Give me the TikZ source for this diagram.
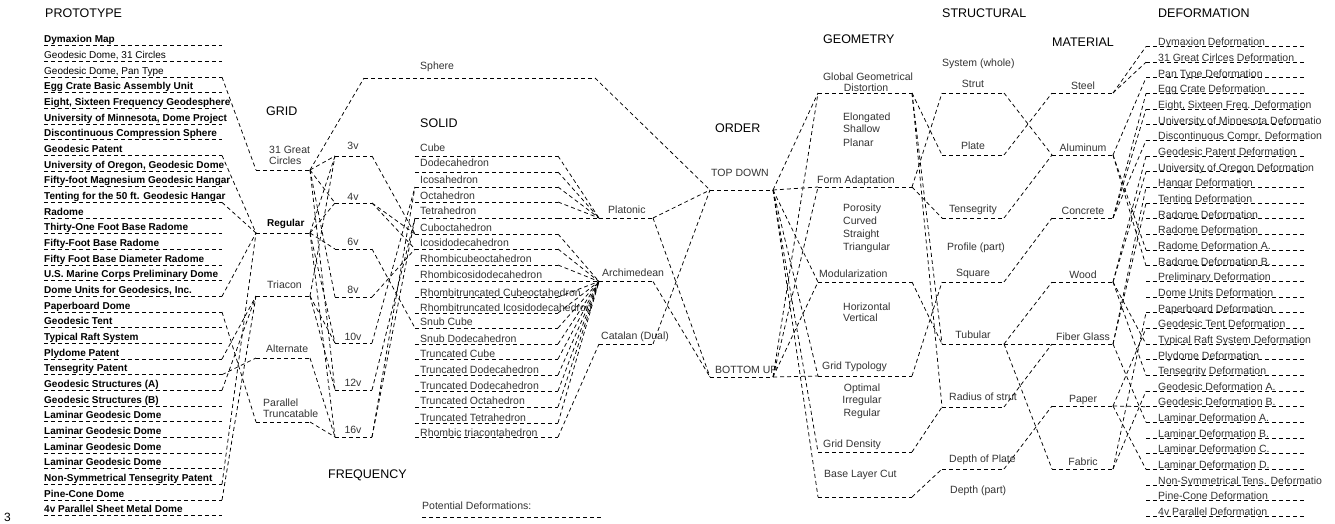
\documentclass[tikz,border=0pt]{standalone}
\usepackage{fontspec}
\setmainfont{Liberation Sans}
\usetikzlibrary{positioning}

\begin{document}
\begin{tikzpicture}[x=1pt, y=-1pt,
    lbl/.style={inner sep=0pt, anchor=base west, font=\fontsize{10.5}{12}\selectfont, text=black!80},
    clbl/.style={lbl, anchor=base},
    head/.style={inner sep=0pt, anchor=base west, font=\fontsize{12.5}{14}\selectfont},
    dl/.style={dash pattern=on 4pt off 3pt, line width=0.75pt}
]
\useasboundingbox (0,0) rectangle (1335,523);

\node[head] (hpro) at (45,17.5) {PROTOTYPE};
\node[head] (hgrid) at (266,115.5) {GRID};
\node[head] (hsol) at (420,127.5) {SOLID};
\node[head] (hfreq) at (328,478.5) {FREQUENCY};
\node[head] (hord) at (715,132.5) {ORDER};
\node[head] (hgeo) at (823,43.5) {GEOMETRY};
\node[head] (hstr) at (942,17.5) {STRUCTURAL};
\node[head] (hmat) at (1052,46.5) {MATERIAL};
\node[head] (hdef) at (1158,17.5) {DEFORMATION};
\node[head, font=\fontsize{12}{14}\selectfont] (pg) at (4,521.5) {3};

% prototypes
\foreach \t/\f [count=\i from 0] in {Dymaxion Map/\bfseries, {Geodesic Dome, 31 Circles}/\color{black!65}, {Geodesic Dome, Pan Type}/\color{black!65}, Egg Crate Basic Assembly Unit/\bfseries, {Eight, Sixteen Frequency Geodesphere}/\bfseries, {University of Minnesota, Dome Project}/\bfseries, Discontinuous Compression Sphere/\bfseries, Geodesic Patent/\bfseries, {University of Oregon, Geodesic Dome}/\bfseries, Fifty-foot Magnesium Geodesic Hangar/\bfseries, Tenting for the 50 ft. Geodesic Hangar/\bfseries, Radome/\bfseries, Thirty-One Foot Base Radome/\bfseries, Fifty-Foot Base Radome/\bfseries, Fifty Foot Base Diameter Radome/\bfseries, U.S. Marine Corps Preliminary Dome/\bfseries, {Dome Units for Geodesics, Inc.}/\bfseries, Paperboard Dome/\bfseries, Geodesic Tent/\bfseries, Typical Raft System/\bfseries, Plydome Patent/\bfseries, Tensegrity Patent/\bfseries, Geodesic Structures (A)/\bfseries, Geodesic Structures (B)/\bfseries, Laminar Geodesic Dome/\bfseries, Laminar Geodesic Dome/\bfseries, Laminar Geodesic Dome/\bfseries, Laminar Geodesic Dome/\bfseries, Non-Symmetrical Tensegrity Patent/\bfseries, Pine-Cone Dome/\bfseries, 4v Parallel Sheet Metal Dome/\bfseries}{
  \node[lbl, text=black, font=\fontsize{10}{12}\selectfont\f] (p\i) at (44,42.9+15.66*\i) {\t};
  \coordinate (pl\i) at (44,45.8+15.66*\i);
  \coordinate (pr\i) at (222,45.8+15.66*\i);
  \draw[dl] (pl\i) -- (pr\i);
}

% grid
\foreach \y [count=\i from 0] in {170,233,296,358,422}{
  \coordinate (gl\i) at (256,\y);
  \coordinate (gr\i) at (310,\y);
  \draw[dl] (gl\i) -- (gr\i);
}
\node[lbl] (g0a) at (269,153.8) {31 Great};
\node[lbl] (g0b) at (269,164.8) {Circles};
\node[lbl, text=black, font=\fontsize{10}{12}\selectfont\bfseries] (g1) at (267,226.6) {Regular};
\node[lbl] (g2) at (267,288.8) {Triacon};
\node[lbl] (g3) at (266,352.8) {Alternate};
\node[lbl] (g4a) at (263,406.5) {Parallel};
\node[lbl] (g4b) at (263,417.1) {Truncatable};

% frequency
\foreach \t/\y/\b [count=\i from 0] in {3v/156/149.8, 4v/203/200.8, 6v/249/245.8, 8v/297/293.8, 10v/343/340.8, 12v/390/386.8, 16v/437/433.8}{
  \coordinate (fl\i) at (335,\y);
  \coordinate (fr\i) at (372,\y);
  \draw[dl] (fl\i) -- (fr\i);
  \node[clbl] (f\i) at (353,\b) {\t};
}

% solids
\foreach \t/\y/\b [count=\i from 0] in {Cube/156/151.8, Dodecahedron/172/166.8, Icosahedron/187/183.8, Octahedron/202/199.8, Tetrahedron/218/214.8, Cuboctahedron/234/231.8, Icosidodecahedron/249/246.8, Rhombicubeoctahedron/265/262.8, Rhombicosidodecahedron/281.5/278.8, Rhombitruncated Cubeoctahedron/297/296.3, Rhombitruncated Icosidodecahedron/313/311.8, Snub Cube/328/325.8, Snub Dodecahedron/344/342.8, Truncated Cube/359/357.8, Truncated Dodecahedron/375/373.8, Truncated Dodecahedron/391/389.8, Truncated Octahedron/407/404.8, Truncated Tetrahedron/423/421.3, Rhombic triacontahedron/437/436.3}{
  \coordinate (sl\i) at (415,\y);
  \coordinate (sr\i) at (558,\y);
  \draw[dl] (sl\i) -- (sr\i);
  \node[lbl] (s\i) at (420,\b) {\t};
}

% sphere, solid groups, order
\coordinate (sphl) at (364,78);
\coordinate (sphr) at (595,78);
\draw[dl] (sphl) -- (sphr);
\node[lbl] (sph) at (420,69.8) {Sphere};
\foreach \t/\x/\y/\b [count=\i from 0] in {Platonic/608/218/213.8, Archimedean/602/281.5/276.8, Catalan (Dual)/601/344/339.8}{
  \coordinate (jl\i) at (599,\y);
  \coordinate (jr\i) at (653,\y);
  \draw[dl] (jl\i) -- (jr\i);
  \node[lbl] (j\i) at (\x,\b) {\t};
}
\coordinate (tdl) at (710,190);
\coordinate (tdr) at (773,190);
\coordinate (bul) at (710,377);
\coordinate (bur) at (773,377);
\draw[dl] (tdl) -- (tdr);
\draw[dl] (bul) -- (bur);
\node[lbl] (td) at (711,176.8) {TOP DOWN};
\node[lbl] (bu) at (715,373.8) {BOTTOM UP};

% geometry
\foreach \y [count=\i from 0] in {93,187,282,376,452,497}{
  \coordinate (el\i) at (818,\y);
  \coordinate (er\i) at (912,\y);
  \draw[dl] (el\i) -- (er\i);
}
\node[clbl] (e0a) at (868,80.8) {Global Geometrical};
\node[clbl] (e0b) at (866,91.1) {Distortion};
\node[lbl] (e1) at (817,183.8) {Form Adaptation};
\node[lbl] (e2) at (819,277.8) {Modularization};
\node[lbl] (e3) at (822,369.8) {Grid Typology};
\node[lbl] (e4) at (823,447.8) {Grid Density};
\node[lbl] (e5) at (824,477.8) {Base Layer Cut};
\foreach \t/\b [count=\i from 0] in {Elongated/120.5, Shallow/132.1, Planar/146.5, Porosity/211.8, Curved/224.8, Straight/237.8, Triangular/250.8, Horizontal/310.8, Vertical/321.8}{
  \node[lbl] (v\i) at (843,\b) {\t};
}
\foreach \t/\b [count=\i from 0] in {Optimal/391.8, Irregular/403.8, Regular/416.8}{
  \node[clbl] (o\i) at (862,\b) {\t};
}

% structural
\foreach \t/\y [count=\i from 0] in {Strut/93, Plate/155, Tensegrity/218, Square/282, Tubular/344}{
  \coordinate (kl\i) at (942,\y);
  \coordinate (kr\i) at (1004,\y);
  \draw[dl] (kl\i) -- (kr\i);
  \node[clbl] (k\i) at (973,\y-5.2) {\t};
}
\foreach \t/\y [count=\i from 5] in {Radius of strut/407, Depth of Plate/469}{
  \coordinate (kl\i) at (942,\y);
  \coordinate (kr\i) at (1004,\y);
  \draw[dl] (kl\i) -- (kr\i);
  \node[lbl] (k\i) at (949,\y-6.2) {\t};
}
\node[lbl] (ksys) at (942,66.8) {System (whole)};
\node[lbl] (kpro) at (947,250.8) {Profile (part)};
\node[lbl] (kdep) at (950,493.8) {Depth (part)};

% material
\foreach \t/\y [count=\i from 0] in {Steel/93, Aluminum/155, Concrete/218, Wood/282, Fiber Glass/344, Paper/406, Fabric/469}{
  \coordinate (ml\i) at (1052,\y);
  \coordinate (mr\i) at (1113,\y);
  \draw[dl] (ml\i) -- (mr\i);
  \node[clbl] (m\i) at (1083,\y-3.5) {\t};
}

% deformations
\foreach \t [count=\i from 0] in {Dymaxion Deformation, 31 Great Cirlces Deformation, Pan Type Deformation, Egg Crate Deformation, {Eight, Sixteen Freq. Deformation}, University of Minnesota Deformatio, Discontinuous Compr. Deformation, Geodesic Patent Deformation, University of Oregon Deformation, Hangar Deformation, Tenting Deformation, Radome Deformation, Radome Deformation, Radome Deformation A., Radome Deformation B., Preliminary Deformation, Dome Units Deformation, Paperboard  Deformation, Geodesic Tent Deformation, Typical Raft System Deformation, Plydome Deformation, Tensegrity  Deformation, Geodesic Deformation A., Geodesic Deformation B., Laminar Deformation A., Laminar Deformation B., Laminar Deformation C., Laminar Deformation D., Non-Symmetrical Tens. Deformatio, Pine-Cone Deformation, 4v Parallel Deformation}{
  \coordinate (df\i) at (1146,46.5+15.66*\i);
  \coordinate (dr\i) at (1305,46.5+15.66*\i);
  \draw[dl] (df\i) -- (dr\i);
  \node[lbl] (d\i) at (1158,45.8+15.66*\i) {\t};
}

\node[lbl] (pot) at (422,509.8) {Potential Deformations:};
\coordinate (potl) at (422,517);
\coordinate (potr) at (603,517);
\draw[dl] (potl) -- (potr);

% connectors
\foreach \a/\b in {pr2/gl0, pr7/gl1, pr10/gl1, pr16/gl1, pr28/gl1, pr17/gl4, pr20/gl2, pr22/gl2, pr29/gl2, pr21/gl3}{\draw[dl] (\a) -- (\b);}
\foreach \a/\b in {gr0/sphl, gr0/fl0, gr0/fl1, gr0/fl3, gr0/fl5, gr1/fl0, gr1/fl1, gr1/fl2, gr1/fl4, gr1/fl6, gr2/fl0, gr2/fl4, gr2/fl5, gr3/fl6, gr4/fl6}{\draw[dl] (\a) -- (\b);}
\foreach \a/\b in {fr0/sl5, fr1/sl5, fr1/sl6, fr2/sl11, fr3/sl6, fr4/sl2, fr5/sl4, fr6/sl2, fr6/sl4}{\draw[dl] (\a) -- (\b);}
\foreach \i in {0,...,4}{\draw[dl] (sr\i) -- (jl0);}
\foreach \i in {5,...,17}{\draw[dl] (sr\i) -- (jl1);}
\draw[dl] (sr18) -- (jl2);
\foreach \a/\b in {sphr/tdl, jr0/tdl, jr0/bul, jr1/bul, jr2/tdl}{\draw[dl] (\a) -- (\b);}
\foreach \a/\b in {tdr/el0, tdr/el1, tdr/el2, tdr/el3, tdr/el4, tdr/el5, bur/el0, bur/el1, bur/el2, bur/el3}{\draw[dl] (\a) -- (\b);}
\foreach \a/\b in {er0/kl1, er0/kl4, er0/kl5, er1/kl0, er1/kl2, er2/kl4, er3/kl3, er4/kl5, er5/kl6}{\draw[dl] (\a) -- (\b);}
\foreach \a/\b in {kr0/ml1, kr1/ml0, kr2/ml1, kr3/ml2, kr4/ml3, kr4/ml4, kr4/ml6, kr5/ml4, kr6/ml5}{\draw[dl] (\a) -- (\b);}
\foreach \a/\b in {mr0/df0, mr0/df1, mr1/df2, mr1/df13, mr1/df14, mr2/df3, mr2/df4, mr2/df6, mr3/df7, mr3/df8, mr3/df19, mr3/df21, mr4/df9, mr4/df10, mr4/df24, mr5/df18, mr5/df23, mr5/df27, mr6/df17, mr6/df22}{\draw[dl] (\a) -- (\b);}
\end{tikzpicture}
\end{document}
